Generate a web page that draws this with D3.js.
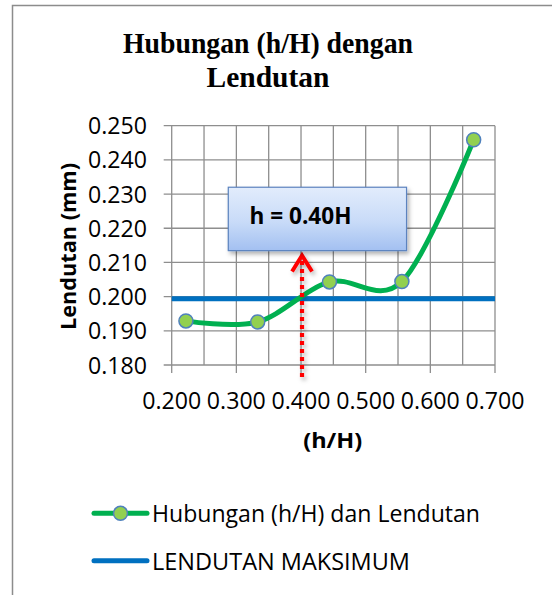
<!DOCTYPE html>
<html><head><meta charset="utf-8">
<script src="https://cdn.jsdelivr.net/npm/d3@7"></script>
<style>html,body{margin:0;padding:0;background:#fff;}svg{display:block;}</style>
</head><body>
<script>
// ---- data ----
const hH = [0.222, 0.333, 0.444, 0.556, 0.667];
const lendutan = [0.1929, 0.1926, 0.2043, 0.2044, 0.2459];
const maxX = [0.2, 0.7];
const maxLendutan = [0.1994, 0.1994];
const xTicks = [0.2, 0.3, 0.4, 0.5, 0.6, 0.7];
const xGrid = [0.2, 0.25, 0.3, 0.35, 0.4, 0.45, 0.5, 0.55, 0.6, 0.65, 0.7];
const yTicks = [0.18, 0.19, 0.20, 0.21, 0.22, 0.23, 0.24, 0.25];
const titleLines = ["Hubungan (h/H) dengan", "Lendutan"];
const seriesNames = ["Hubungan (h/H) dan Lendutan", "LENDUTAN MAKSIMUM"];
const annotX = 0.40;
const annotLabel = "h = 0.40H";

// ---- layout ----
const W = 552, H = 595;
const svg = d3.select("body").append("svg").attr("width", W).attr("height", H);
const defs = svg.append("defs");
const grad = defs.append("linearGradient").attr("id","boxg").attr("x1",0).attr("y1",0).attr("x2",0).attr("y2",1);
grad.append("stop").attr("offset","0%").attr("stop-color","#e2ecfc");
grad.append("stop").attr("offset","55%").attr("stop-color","#c8dbf8");
grad.append("stop").attr("offset","100%").attr("stop-color","#a3c0f1");
const sh = defs.append("filter").attr("id","sh").attr("x","-20%").attr("y","-20%").attr("width","150%").attr("height","150%");
sh.append("feDropShadow").attr("dx",2).attr("dy",3).attr("stdDeviation",2).attr("flood-color","#000").attr("flood-opacity",0.3);

const sans = "'Open Sans', 'Noto Sans', sans-serif";
const serif = "'Liberation Serif', 'DejaVu Serif', serif";

// chart border
svg.append("path").attr("d", `M12.5,${H} L12.5,5.5 L${W},5.5`).attr("fill","none").attr("stroke","#8c8c8c").attr("stroke-width",1.5);

const x = d3.scaleLinear().domain([0.2, 0.7]).range([171.7, 495]);
const y = d3.scaleLinear().domain([0.18, 0.25]).range([365, 125.7]);

// title
const tt = svg.append("text").attr("font-family", serif).attr("font-weight","bold").attr("font-size",29.5).attr("text-anchor","middle").attr("fill","#000");
tt.append("tspan").attr("x",268).attr("y",53).text(titleLines[0]).attr("textLength",290).attr("lengthAdjust","spacingAndGlyphs");
tt.append("tspan").attr("x",268).attr("y",87).text(titleLines[1]);

// gridlines
const g = svg.append("g");
g.selectAll(".hg").data(yTicks).join("line")
  .attr("x1", x(0.2)-8).attr("x2", x(0.7)).attr("y1", d=>y(d)).attr("y2", d=>y(d))
  .attr("stroke","#8e8e8e").attr("stroke-width",1.3);
g.selectAll(".vg").data(xGrid).join("line")
  .attr("x1", d=>x(d)).attr("x2", d=>x(d)).attr("y1", y(0.25)).attr("y2", y(0.18))
  .attr("stroke","#8e8e8e").attr("stroke-width",1.3);
// x ticks (major)
g.selectAll(".xt").data(xTicks).join("line")
  .attr("x1", d=>x(d)).attr("x2", d=>x(d)).attr("y1", y(0.18)).attr("y2", y(0.18)+8)
  .attr("stroke","#8e8e8e").attr("stroke-width",1.3);

// tick labels
svg.append("g").selectAll("text").data(yTicks).join("text")
  .attr("x", 147).attr("y", d=>y(d)+8.5).attr("text-anchor","end")
  .attr("font-family", sans).attr("font-size",23).attr("fill","#000")
  .attr("textLength",59).attr("lengthAdjust","spacingAndGlyphs")
  .text(d=>d3.format(".3f")(d));
svg.append("g").selectAll("text").data(xTicks).join("text")
  .attr("x", d=>x(d)).attr("y", 408.5).attr("text-anchor","middle")
  .attr("font-family", sans).attr("font-size",23).attr("fill","#000")
  .attr("textLength",59).attr("lengthAdjust","spacingAndGlyphs")
  .text(d=>d3.format(".3f")(d));

// axis titles
svg.append("text").attr("transform","translate(76,246.5) rotate(-90)").attr("text-anchor","middle")
  .attr("font-family", sans).attr("font-weight","bold").attr("font-size",22).attr("fill","#000")
  .attr("textLength",167).attr("lengthAdjust","spacingAndGlyphs").text("Lendutan (mm)");
svg.append("text").attr("x",332.7).attr("y",447.5).attr("text-anchor","middle")
  .attr("font-family", sans).attr("font-weight","bold").attr("font-size",22).attr("fill","#000")
  .attr("textLength",59).attr("lengthAdjust","spacingAndGlyphs").text("(h/H)");

// max line
const pts2 = maxX.map((v,i)=>[v, maxLendutan[i]]);
svg.append("path").datum(pts2)
  .attr("d", d3.line().x(d=>x(d[0])).y(d=>y(d[1])))
  .attr("fill","none").attr("stroke","#0070c0").attr("stroke-width",5);

// main series
const pts = hH.map((v,i)=>[v, lendutan[i]]);
svg.append("path").datum(pts)
  .attr("d", d3.line().x(d=>x(d[0])).y(d=>y(d[1])).curve(d3.curveCatmullRom.alpha(0)))
  .attr("fill","none").attr("stroke","#00b050").attr("stroke-width",5).attr("stroke-linecap","round");
svg.append("g").selectAll("circle").data(pts).join("circle")
  .attr("cx", d=>x(d[0])).attr("cy", d=>y(d[1])).attr("r",7)
  .attr("fill","#92d050").attr("stroke","#4f81bd").attr("stroke-width",1.5);

// annotation arrow
const ax = x(annotX) + 1;
const tipY = y(0.2129);
const arr = svg.append("g").attr("filter","url(#sh)");
arr.append("line").attr("x1",ax).attr("x2",ax).attr("y1", y(0.18)+12).attr("y2", tipY+4)
  .attr("stroke","#ff0000").attr("stroke-width",4.2).attr("stroke-dasharray","4,4");
arr.append("path").attr("d", `M${ax-10},${tipY+19} L${ax},${tipY+3} L${ax+10},${tipY+19}`)
  .attr("fill","none").attr("stroke","#ff0000").attr("stroke-width",4).attr("stroke-linejoin","miter");

// annotation box
const bx0 = x(0.2875), bx1 = x(0.5632), by0 = y(0.2320), by1 = y(0.21345);
svg.append("rect").attr("x",bx0).attr("y",by0).attr("width",bx1-bx0).attr("height",by1-by0)
  .attr("fill","url(#boxg)").attr("stroke","#5b83bf").attr("stroke-width",1.2).attr("filter","url(#sh)");
svg.append("text").attr("x",249.5).attr("y",223.5)
  .attr("font-family", sans).attr("font-weight","bold").attr("font-size",23).attr("fill","#000")
  .attr("textLength",102).attr("lengthAdjust","spacingAndGlyphs").text(annotLabel);

// legend
const lg = svg.append("g");
lg.append("line").attr("x1",94).attr("x2",147).attr("y1",513.3).attr("y2",513.3)
  .attr("stroke","#00b050").attr("stroke-width",5).attr("stroke-linecap","round");
lg.append("circle").attr("cx",120.5).attr("cy",513.3).attr("r",7)
  .attr("fill","#92d050").attr("stroke","#4f81bd").attr("stroke-width",1.5);
lg.append("text").attr("x",152).attr("y",521.7).attr("font-family",sans).attr("font-size",23).attr("fill","#000")
  .attr("textLength",328).attr("lengthAdjust","spacingAndGlyphs").text(seriesNames[0]);
lg.append("line").attr("x1",94).attr("x2",147).attr("y1",560.7).attr("y2",560.7)
  .attr("stroke","#0070c0").attr("stroke-width",5).attr("stroke-linecap","round");
lg.append("text").attr("x",152).attr("y",569.5).attr("font-family",sans).attr("font-size",23).attr("fill","#000")
  .attr("textLength",258).attr("lengthAdjust","spacingAndGlyphs").text(seriesNames[1]);
</script>
</body></html>
